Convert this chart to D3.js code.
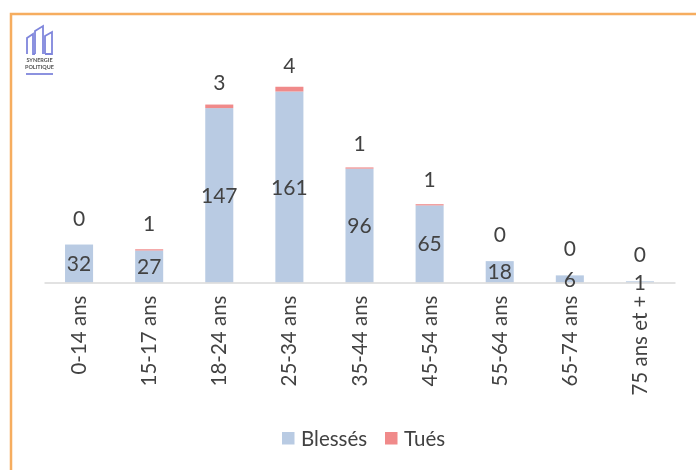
<!DOCTYPE html>
<html><head><meta charset="utf-8">
<script src="https://cdn.jsdelivr.net/npm/d3@7/dist/d3.min.js"></script>
<style>
html,body{margin:0;padding:0;background:#fff;overflow:hidden}
svg{display:block;font-family:Lato,"Open Sans",sans-serif}
text{fill:#424242}
</style></head><body><div id="c"></div>
<script>
const categories=["0-14 ans","15-17 ans","18-24 ans","25-34 ans","35-44 ans","45-54 ans","55-64 ans","65-74 ans","75 ans et +"];
const blesses=[32,27,147,161,96,65,18,6,1];
const tues=[0,1,3,4,1,1,0,0,0];
const seriesNames=["Blessés","Tués"];
const colors=["#b9cbe3","#f08a8a"];

const W=696,H=470,baseY=282.5,left=44,right=675;
const svg=d3.select("#c").append("svg").attr("width",W).attr("height",H);
svg.append("defs").append("filter").attr("id","soft").append("feGaussianBlur").attr("stdDeviation",0.5);
const root=svg.append("g").attr("filter","url(#soft)");

// frame: top and left edges only
root.append("path").attr("d",`M11 ${H+5}V14H${W+5}`).attr("fill","none").attr("stroke","#f6ad5e").attr("stroke-width",2.5);

const x=d3.scaleBand().domain(categories).range([left,right]).paddingInner(0.6).paddingOuter(0.3);
const y=d3.scaleLinear().domain([0,161]).range([baseY,baseY-191]);
// the reference's upper labels sit on a slightly flatter line than the bar tops
const yLabel=d3.scaleLinear().domain([0,165]).range([254.5,64]);

const rows=categories.map((c,i)=>({c,b:blesses[i],t:tues[i]}));
const stack=d3.stack().keys(["b","t"])(rows);
root.selectAll("g.s").data(stack).join("g").attr("fill",(d,i)=>colors[i])
 .selectAll("rect").data(d=>d).join("rect")
 .attr("x",d=>x(d.data.c)).attr("width",x.bandwidth())
 .attr("y",d=>y(d[1])).attr("height",d=>y(d[0])-y(d[1]));

// axis
const ax=d3.axisBottom(x).tickSize(0).tickPadding(10);
const axG=root.append("g").attr("transform",`translate(0,${baseY})`).call(ax).attr("font-family",null).attr("font-size",null);
axG.select(".domain").attr("stroke","#d9d9d9").attr("stroke-width",1.6);
axG.selectAll("text").attr("font-size",20.5).attr("text-anchor","end").attr("dominant-baseline","central")
 .attr("transform","translate(-1,13) rotate(-90)").attr("x",0).attr("y",0).attr("dy",0);

// value labels
root.selectAll("text.b").data(rows).join("text").attr("class","b")
 .attr("x",d=>x(d.c)+x.bandwidth()/2).attr("y",d=>y(d.b/2)+(d.b<10?0:-1))
 .attr("text-anchor","middle").attr("dominant-baseline","central").attr("font-size",21).text(d=>d.b);
root.selectAll("text.t").data(rows).join("text").attr("class","t")
 .attr("x",d=>x(d.c)+x.bandwidth()/2).attr("y",d=>yLabel(d.b+d.t))
 .attr("text-anchor","middle").attr("dominant-baseline","central").attr("font-size",21).text(d=>d.t);

// legend
const lg=root.append("g");
[[282,0],[385,1]].forEach(([lx,i])=>{
 lg.append("rect").attr("x",lx).attr("y",432).attr("width",12.5).attr("height",12.5).attr("fill",colors[i]);
 lg.append("text").attr("x",lx+19).attr("y",438).attr("dominant-baseline","central").attr("font-size",20.5).text(seriesNames[i]);
});

// logo
const logo=root.append("g").attr("fill","none").attr("stroke","#7f86dc").attr("stroke-width",1.8);
logo.append("path").attr("d","M27 54V38L33 34V54H35M35 54V31L43 26V54M45 54V36L52 32V54H45");
logo.append("path").attr("d","M26 74H53");
root.append("text").attr("x",39.5).attr("y",62).attr("text-anchor","middle").attr("font-size",5.5).attr("font-weight",700).style("fill","#555").text("SYNERGIE");
root.append("text").attr("x",39.5).attr("y",69).attr("text-anchor","middle").attr("font-size",5.5).attr("font-weight",700).style("fill","#555").text("POLITIQUE");
</script></body></html>
